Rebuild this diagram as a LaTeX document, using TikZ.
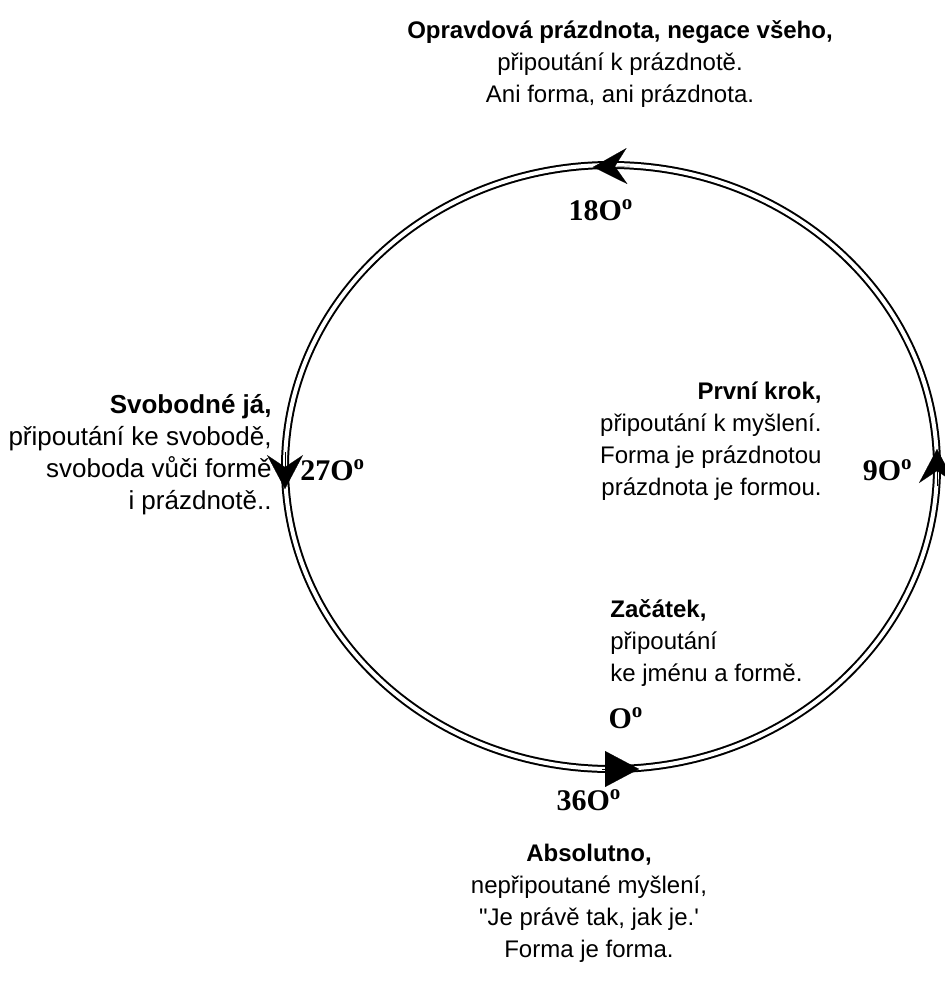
\documentclass[tikz,border=0pt]{standalone}
\usepackage{fontspec}
\setmainfont{Liberation Serif}
\setsansfont{Liberation Sans}[Ligatures=TeXOff]
\usetikzlibrary{arrows.meta}
\tikzset{
	txt/.style={font=\sffamily\fontsize{12}{16}\selectfont, inner sep=0pt},
	deg/.style={font=\rmfamily\bfseries\fontsize{15}{17}\selectfont, inner sep=0pt},
	ring/.style={draw, line width=1pt, double, double distance=2pt},
	headtip/.style={-{Stealth[length=17pt,width=18pt,inset=6pt]}, line width=0.1pt},
	flattip/.style={-{Triangle[length=17pt,width=18pt]}, line width=0.1pt}
}
\newcommand{\stupen}[1]{#1\textsuperscript{o}}
\begin{document}
\begin{tikzpicture}[x=0.5pt,y=-0.5pt]
	\useasboundingbox (0,0) rectangle (945,992);
	\coordinate (stred) at (611,467);
	\path[ring] (stred) ellipse [x radius=163pt, y radius=151pt];
	\coordinate (a180) at (630,166);
	\coordinate (b180) at (593,167);
	\coordinate (a270) at (285,452);
	\coordinate (b270) at (285,489);
	\coordinate (a90) at (937,486);
	\coordinate (b90) at (937,449);
	\coordinate (a0) at (602,769);
	\coordinate (b0) at (639,769);
	\draw[headtip] (a180) -- (b180);
	\draw[headtip] (a270) -- (b270);
	\draw[headtip] (a90) -- (b90);
	\draw[flattip] (a0) -- (b0);
	\node[deg] (d180) at (601,210) {\stupen{18O}};
	\node[deg, anchor=west] (d270) at (300,470) {\stupen{27O}};
	\node[deg, anchor=east] (d90) at (913,470) {\stupen{9O}};
	\node[deg] (d0) at (626,718) {\stupen{O}};
	\node[deg] (d360) at (589,800) {\stupen{36O}};
	\node[txt, align=center] (nahore) at (620,64) {\textbf{Opravdová prázdnota, negace všeho,}\\připoutání k prázdnotě.\\Ani forma, ani prázdnota.};
	\node[txt, font=\sffamily\fontsize{13}{16}\selectfont, align=right, anchor=east] (vlevo) at (272,455) {\textbf{Svobodné já,}\\připoutání ke svobodě,\\svoboda vůči formě\\i prázdnotě..};
	\node[txt, align=right, anchor=east] (krok) at (822,441) {\textbf{První krok,}\\připoutání k myšlení.\\Forma je prázdnotou\\prázdnota je formou.};
	\node[txt, align=left, anchor=west] (zacatek) at (610,643) {\textbf{Začátek,}\\připoutání\\ke jménu a formě.};
	\node[txt, align=center] (dole) at (589,903) {\textbf{Absolutno,}\\nepřipoutané myšlení,\\"Je právě tak, jak je.'\\Forma je forma.};
\end{tikzpicture}
\end{document}
